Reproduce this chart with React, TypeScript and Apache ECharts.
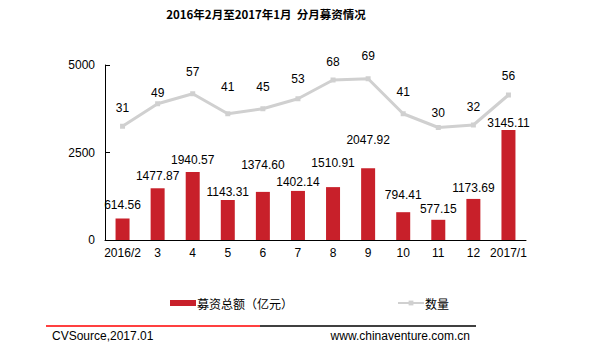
import React, { useEffect, useRef } from "react";
import * as echarts from "echarts";

const categories = ["2016/2", "3", "4", "5", "6", "7", "8", "9", "10", "11", "12", "2017/1"];
const amounts = [614.56, 1477.87, 1940.57, 1143.31, 1374.6, 1402.14, 1510.91, 2047.92, 794.41, 577.15, 1173.69, 3145.11];
const counts = [31, 49, 57, 41, 45, 53, 68, 69, 41, 30, 32, 56];
const titleText = "2016年2月至2017年1月  分月募资情况";
const seriesNames = ["募资总额（亿元）", "数量"];
const sourceText = "CVSource,2017.01";
const siteText = "www.chinaventure.com.cn";

// label placement (layout only, as in the reference)
const barLabelGap = [7, 6, 6, 2, 21, 3, 18, 22, 11, 5, 5, 1];
const lineLabelGap = [10, 2, 13, 18, 13, 11, 10, 14, 13, 6, 10, 11];

const FONT = "Liberation Sans, Arial, sans-serif";

export default function App() {
  const ref = useRef<HTMLDivElement>(null);
  useEffect(() => {
    if (!ref.current) return;
    const chart = echarts.init(ref.current, null, { renderer: "svg" });
    chart.setOption({
      animation: false,
      backgroundColor: "#ffffff",
      textStyle: { fontFamily: FONT },
      title: {
        text: titleText,
        left: 261,
        textAlign: "center",
        top: 3,
        textStyle: { fontFamily: "Noto Sans CJK SC", fontWeight: "bold", fontSize: 11.5, color: "#000" },
      },
      legend: {
        left: 165,
        top: 292,
        itemGap: 104,
        itemWidth: 26,
        itemHeight: 6,
        textStyle: { fontFamily: "Noto Sans CJK SC", fontSize: 12, color: "#000", padding: [0, 0, 0, -4] },
        data: [
          { name: seriesNames[0], icon: "rect" },
          { name: seriesNames[1] },
        ],
      },
      grid: { left: 105, right: 84, top: 65, bottom: 113, containLabel: false },
      xAxis: {
        type: "category",
        data: categories,
        axisLine: { lineStyle: { color: "#000", width: 1 } },
        axisTick: { show: false },
        axisLabel: { color: "#000", fontSize: 12, fontFamily: FONT, margin: 7, interval: 0 },
      },
      yAxis: [
        {
          type: "value",
          min: 0,
          max: 5000,
          interval: 2500,
          axisLine: { show: true, lineStyle: { color: "#000", width: 1 } },
          axisTick: { show: true, inside: true, length: 5, lineStyle: { color: "#000" } },
          splitLine: { show: false },
          axisLabel: { color: "#000", fontSize: 12, fontFamily: FONT, margin: 10, formatter: (v: number) => String(v) },
        },
        {
          type: "value",
          min: -60,
          max: 80,
          interval: 20,
          show: false,
          splitLine: { show: false },
        },
      ],
      series: [
        {
          name: seriesNames[0],
          type: "bar",
          data: amounts.map((v, i) => ({ value: v, label: { distance: barLabelGap[i] } })),
          barWidth: 14,
          itemStyle: { color: "#C8202A" },
          label: {
            show: true,
            position: "top",
            color: "#000",
            fontSize: 12,
            fontFamily: FONT,
            formatter: (p: any) => p.value.toFixed(2),
          },
        },
        {
          name: seriesNames[1],
          type: "line",
          yAxisIndex: 1,
          data: counts.map((v, i) => ({ value: v, label: { distance: lineLabelGap[i] } })),
          symbol: "rect",
          symbolSize: 5,
          lineStyle: { color: "#D0D0D0", width: 3 },
          itemStyle: { color: "#D0D0D0" },
          label: {
            show: true,
            position: "top",
            color: "#000",
            fontSize: 12,
            fontFamily: FONT,
          },
        },
      ],
      graphic: [
        { type: "line", shape: { x1: 46, y1: 326, x2: 260, y2: 326 }, style: { stroke: "#FF0000", lineWidth: 1.5 } },
        { type: "line", shape: { x1: 260, y1: 326, x2: 476, y2: 326 }, style: { stroke: "#000000", lineWidth: 1.5 } },
        { type: "text", x: 52, y: 330, style: { text: sourceText, fontSize: 12, fontFamily: FONT, fill: "#000" } },
        { type: "text", x: 470, y: 330, style: { text: siteText, fontSize: 12, fontFamily: FONT, fill: "#000", textAlign: "right" } },
      ],
    });
    return () => chart.dispose();
  }, []);
  return <div ref={ref} style={{ position: "fixed", left: 0, top: 0, width: 610, height: 353 }} />;
}
